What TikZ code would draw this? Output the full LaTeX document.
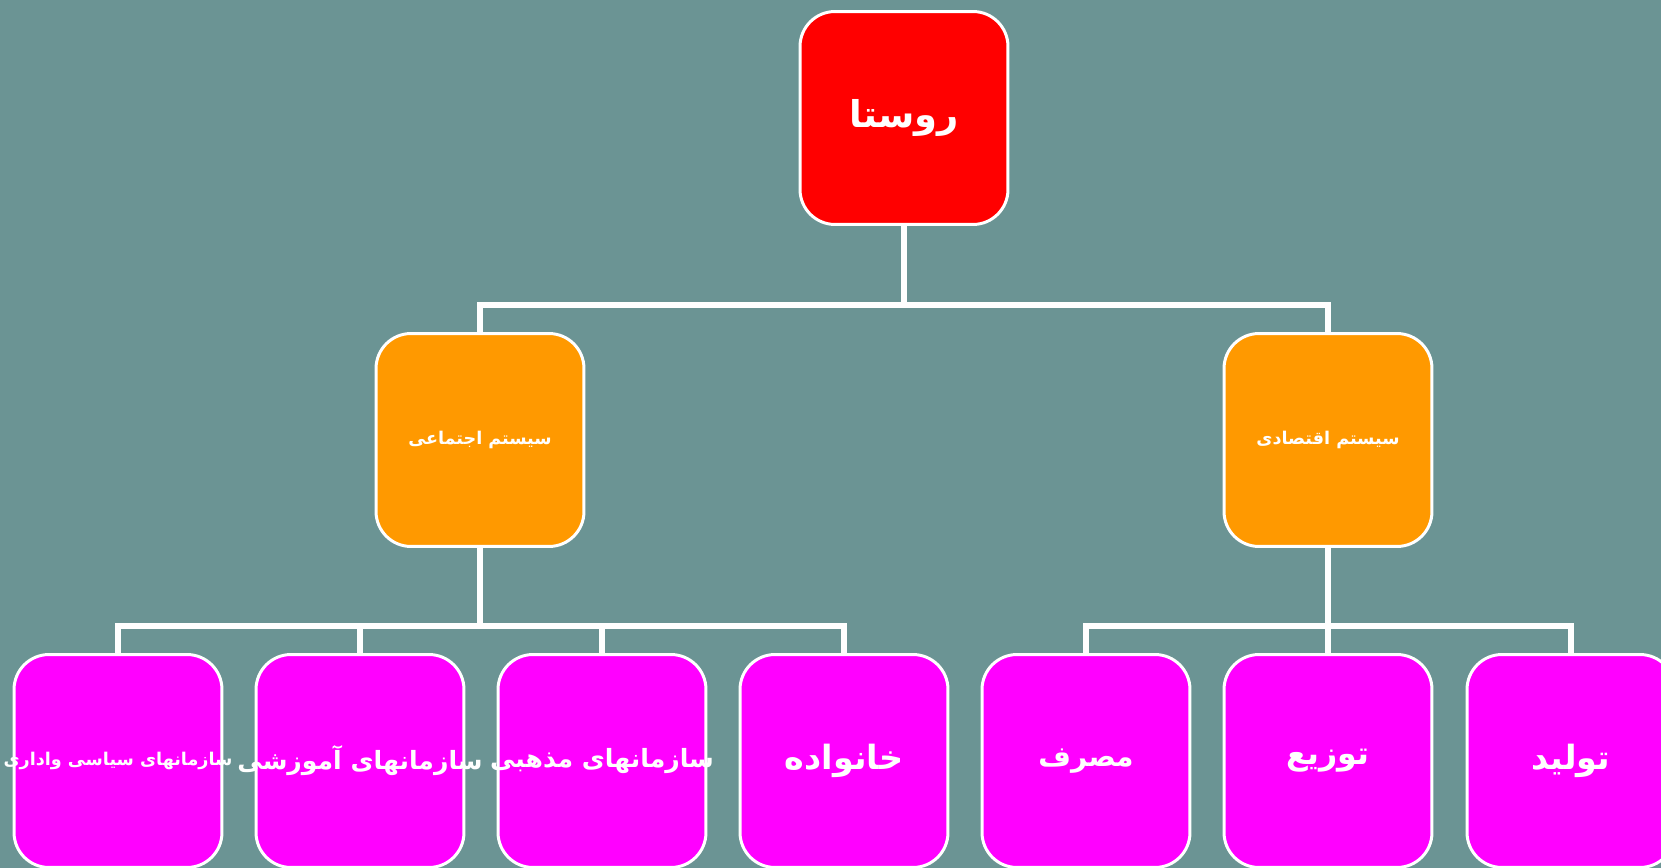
\documentclass[tikz,border=0pt]{standalone}
\usepackage{fontspec}
\usepackage{tikz}
\usetikzlibrary{positioning}
\TeXXeTstate=1
\newfontfamily\farsifont[Script=Arabic]{DejaVu Sans}
\definecolor{bgteal}{RGB}{107,148,148}
\definecolor{boxred}{RGB}{255,0,0}
\definecolor{boxorange}{RGB}{255,153,0}
\definecolor{boxpink}{RGB}{255,0,255}
\newcommand{\falabel}[2]{\makebox[0pt]{\fontsize{#1}{#1}\selectfont\farsifont\bfseries #2}}

\begin{document}
\begin{tikzpicture}[x=0.02cm, y=-0.02cm,
    box/.style={draw=white, line width=1.7pt, rounded corners=0.7cm,
        minimum width=4.16cm, minimum height=4.26cm, inner sep=0pt, text=white},
    link/.style={white, line width=3.4pt}]
            \fill[bgteal] (0,0) rectangle (1661,868);
            \clip (0,0) rectangle (1661,868);

            % root
            \draw (904,118) node[box, fill=boxred]        (rusta) {\falabel{21}{\beginR روستا\endR}};
            % second level
            \draw (480,440) node[box, fill=boxorange]     (ejtemai) {\falabel{10}{\beginR سیستم اجتماعی\endR}};
            \draw (1328,440) node[box, fill=boxorange]    (eghtesadi) {\falabel{10}{\beginR سیستم اقتصادی\endR}};
            % third level
            \draw (118,761) node[box, fill=boxpink]       (siasi) {\falabel{10}{\beginR سازمانهای سیاسی واداری\endR}};
            \draw (360,761) node[box, fill=boxpink]       (amoozeshi) {\falabel{14.3}{\beginR سازمانهای آموزشی\endR}};
            \draw (602,761) node[box, fill=boxpink]       (mazhabi) {\falabel{14.3}{\beginR سازمانهای مذهبی\endR}};
            \draw (844,761) node[box, fill=boxpink]       (khanevade) {\falabel{19}{\beginR خانواده\endR}};
            \draw (1086,761) node[box, fill=boxpink]      (masraf) {\falabel{16}{\beginR مصرف\endR}};
            \draw (1328,761) node[box, fill=boxpink]      (tozi) {\falabel{18}{\beginR توزیع\endR}};
            \draw (1571,761) node[box, fill=boxpink]      (tolid) {\falabel{19}{\beginR تولید\endR}};

            \coordinate (top bus) at (904,305);
            \coordinate (soc bus) at (480,626);
            \coordinate (eco bus) at (1328,626);

            \draw[link] (rusta) -- (top bus);
            \draw[link] (ejtemai.north) |- (top bus) -| (eghtesadi.north);
            \draw[link] (ejtemai) -- (soc bus);
            \draw[link] (siasi.north) |- (soc bus) -| (khanevade.north);
            \draw[link] (amoozeshi) -- (amoozeshi |- soc bus);
            \draw[link] (mazhabi) -- (mazhabi |- soc bus);
            \draw[link] (eghtesadi) -- (eco bus);
            \draw[link] (masraf.north) |- (eco bus) -| (tolid.north);
            \draw[link] (tozi) -- (eco bus);

\end{tikzpicture}
\end{document}
